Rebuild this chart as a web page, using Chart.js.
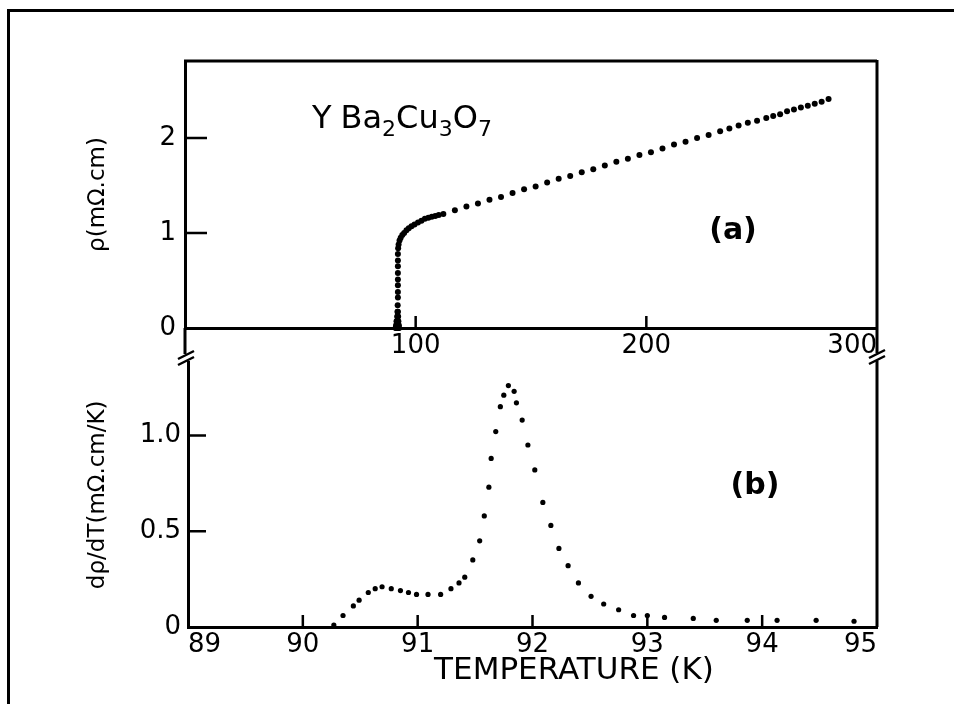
<!DOCTYPE html>
<html>
<head>
<meta charset="utf-8">
<script src="https://cdn.jsdelivr.net/npm/chart.js@4.4.1/dist/chart.umd.min.js"></script>
<style>
  html, body { margin: 0; padding: 0; background: #fff; }
  #hoja { position: relative; width: 954px; height: 704px; overflow: hidden; }
  #marco { position: absolute; left: 7px; top: 9px; right: -10px; bottom: -10px;
           border-left: 3px solid #000; border-top: 3px solid #000; }
  canvas { position: absolute; left: 0; }
</style>
</head>
<body>
<div id="hoja">
  <div id="marco"></div>
  <canvas id="graficoA" width="954" height="372" style="top:0px"></canvas>
  <canvas id="graficoB" width="954" height="364" style="top:340px"></canvas>
</div>
<script>
// (a) resistividad vs temperatura
const temperaturaA = [91.3, 91.6, 91.9, 92.2, 92.5, 92.8, 91.5, 91.8, 92.1, 92.4, 92.7, 91.7, 91.9, 92.2, 92.5,
  92.0, 92.2, 92.4, 92.1, 92.3, 92.2,
  92.3, 92.3, 92.3, 92.3, 92.3, 92.3, 92.3, 92.3, 92.4, 92.6, 93.0, 93.5, 94.2, 95.0, 96.0, 97.0,
  98.2, 99.5, 101, 102.5, 104, 105.5, 107, 108.5, 110,
  112, 117, 122, 127, 132, 137, 142, 147, 152, 157, 162, 167, 172, 177, 182, 187, 192, 197,
  202, 207, 212, 217, 222, 227, 232, 236, 240, 244, 248, 252, 255, 258, 261, 264, 267, 270,
  273, 276, 279]
const resistividad = [0, 0, 0, 0, 0, 0, 0.03, 0.03, 0.03, 0.03, 0.03, 0.07, 0.07, 0.07, 0.07,
  0.12, 0.12, 0.12, 0.17, 0.17, 0.24,
  0.32, 0.38, 0.45, 0.51, 0.58, 0.65, 0.71, 0.78, 0.84, 0.88, 0.92, 0.95, 0.98, 1.0, 1.03, 1.05,
  1.07, 1.09, 1.11, 1.13, 1.15, 1.16, 1.17, 1.18, 1.19,
  1.20, 1.24, 1.28, 1.31, 1.35, 1.38, 1.42, 1.46, 1.49, 1.53, 1.57, 1.60, 1.64, 1.67, 1.71, 1.75, 1.78, 1.82,
  1.85, 1.89, 1.93, 1.96, 2.00, 2.03, 2.07, 2.10, 2.13, 2.16, 2.18, 2.21, 2.23, 2.25, 2.28, 2.30, 2.32, 2.34,
  2.36, 2.38, 2.41]

// (b) derivada dρ/dT cerca de Tc
const temperaturaB = [90.27, 90.35, 90.44, 90.49, 90.57, 90.63, 90.69, 90.77, 90.85, 90.92, 90.99,
  91.09, 91.20, 91.29, 91.36, 91.41, 91.48, 91.54, 91.58, 91.62, 91.64, 91.68, 91.72, 91.75, 91.79,
  91.84, 91.86, 91.91, 91.96, 92.02, 92.09, 92.16, 92.23, 92.31, 92.40, 92.51, 92.62, 92.75, 92.88,
  93.00, 93.15, 93.40, 93.60, 93.87, 94.13, 94.47, 94.80]
const derivada = [0.01, 0.06, 0.11, 0.14, 0.18, 0.20, 0.21, 0.20, 0.19, 0.18, 0.17,
  0.17, 0.17, 0.20, 0.23, 0.26, 0.35, 0.45, 0.58, 0.73, 0.88, 1.02, 1.15, 1.21, 1.26,
  1.23, 1.17, 1.08, 0.95, 0.82, 0.65, 0.53, 0.41, 0.32, 0.23, 0.16, 0.12, 0.09, 0.06,
  0.06, 0.05, 0.045, 0.035, 0.035, 0.035, 0.035, 0.03]

// ejes
const rangoXA = [0, 300]
const rangoYA = [0, 2.81]
const rangoXB = [89, 95]
const rangoYB = [0, 1.38]

Chart.defaults.font.family = '"DejaVu Sans", sans-serif'
Chart.defaults.color = '#000'

function corte(ctx, x, y) {
  // marca de eje cortado "//"
  ctx.lineWidth = 2.5
  ctx.beginPath()
  ctx.moveTo(x - 8, y + 1); ctx.lineTo(x + 8, y - 7)
  ctx.moveTo(x - 8, y + 7); ctx.lineTo(x + 8, y - 1)
  ctx.stroke()
}

const extrasA = {
  id: 'extrasA',
  afterDraw(chart) {
    const ctx = chart.ctx
    const { left, right, top, bottom } = chart.chartArea
    const ejeX = chart.scales.x
    const ejeY = chart.scales.y
    ctx.save()
    ctx.strokeStyle = '#000'
    ctx.fillStyle = '#000'
    ctx.lineWidth = 3
    ctx.beginPath()
    ctx.moveTo(left - 1, top); ctx.lineTo(right, top)
    ctx.moveTo(right, top - 1); ctx.lineTo(right, bottom + 25)
    ctx.moveTo(left, bottom); ctx.lineTo(left, bottom + 26)
    ctx.stroke()
    ctx.lineWidth = 2.5
    ctx.beginPath()
    ejeY.ticks.forEach(t => {
      if (t.value <= 0) return
      const py = ejeY.getPixelForValue(t.value)
      ctx.moveTo(left, py); ctx.lineTo(left + 22, py)
    })
    ejeX.ticks.forEach(t => {
      if (t.value <= rangoXA[0] || t.value >= rangoXA[1]) return
      const px = ejeX.getPixelForValue(t.value)
      ctx.moveTo(px, bottom); ctx.lineTo(px, bottom - 12)
    })
    ctx.stroke()
    corte(ctx, left + 1, bottom + 30)
    corte(ctx, right, bottom + 29)

    // formula con subindices
    let px = 312
    const base = 128
    const partes = [['Y', 0], ['Ba', 0], ['2', 1], ['Cu', 0], ['3', 1], ['O', 0], ['7', 1]]
    ctx.textBaseline = 'alphabetic'
    ctx.textAlign = 'left'
    partes.forEach(([txt, sub]) => {
      ctx.font = sub ? '22px "DejaVu Sans"' : '32px "DejaVu Sans"'
      ctx.fillText(txt, px, sub ? base + 8 : base)
      px += ctx.measureText(txt).width + (txt === 'Y' ? 9 : 0)
    })
    ctx.font = 'bold 30px "DejaVu Sans"'
    ctx.textAlign = 'center'
    ctx.textBaseline = 'middle'
    ctx.fillText('(a)', 733, 231)
    ctx.restore()
  }
}

const extrasB = {
  id: 'extrasB',
  afterDraw(chart) {
    const ctx = chart.ctx
    const { left, right, top, bottom } = chart.chartArea
    const ejeX = chart.scales.x
    const ejeY = chart.scales.y
    ctx.save()
    ctx.strokeStyle = '#000'
    ctx.fillStyle = '#000'
    ctx.lineWidth = 3
    ctx.beginPath()
    ctx.moveTo(right, top - 2); ctx.lineTo(right, bottom)
    ctx.stroke()
    ctx.lineWidth = 2.5
    ctx.beginPath()
    ejeY.ticks.forEach(t => {
      if (t.value <= 0) return
      const py = ejeY.getPixelForValue(t.value)
      ctx.moveTo(left, py); ctx.lineTo(left + 18, py)
    })
    ejeX.ticks.forEach(t => {
      if (t.value <= rangoXB[0] || t.value >= rangoXB[1]) return
      const px = ejeX.getPixelForValue(t.value)
      ctx.moveTo(px, bottom); ctx.lineTo(px, bottom - 12)
    })
    ctx.stroke()
    ctx.font = 'bold 30px "DejaVu Sans"'
    ctx.textAlign = 'center'
    ctx.textBaseline = 'middle'
    ctx.fillText('(b)', 755, 146)
    ctx.font = '31px "DejaVu Sans"'
    ctx.fillText('TEMPERATURE (K)', 574, 331)
    ctx.restore()
  }
}

const puntosA = temperaturaA.map((t, i) => ({ x: t, y: resistividad[i] }))
const puntosB = temperaturaB.map((t, i) => ({ x: t, y: derivada[i] }))

new Chart(document.getElementById('graficoA'), {
  type: 'scatter',
  data: { datasets: [{ data: puntosA, pointRadius: 3, pointBorderWidth: 0,
    backgroundColor: '#000', borderColor: '#000', clip: false }] },
  options: {
    responsive: false, animation: false, devicePixelRatio: 1,
    layout: { padding: { left: 80, top: 61, right: 77, bottom: 0 } },
    plugins: { legend: { display: false }, tooltip: { enabled: false } },
    scales: {
      x: {
        type: 'linear', min: rangoXA[0], max: rangoXA[1],
        grid: { display: false, drawTicks: false },
        border: { display: true, color: '#000', width: 3 },
        ticks: { stepSize: 100, align: 'inner', maxRotation: 0, autoSkip: false, padding: 3,
          font: { size: 26 }, callback: v => v === 0 ? '' : v },
        afterFit: s => { s.height = 44 }
      },
      y: {
        min: rangoYA[0], max: rangoYA[1],
        grid: { display: false, drawTicks: false },
        border: { display: true, color: '#000', width: 3 },
        ticks: { stepSize: 1, includeBounds: false, padding: 9, font: { size: 26 } },
        title: { display: true, text: 'ρ(mΩ.cm)', font: { size: 23 }, padding: { top: 4, bottom: 0 } },
        afterFit: s => { s.width = 105 }
      }
    }
  },
  plugins: [extrasA]
})

new Chart(document.getElementById('graficoB'), {
  type: 'scatter',
  data: { datasets: [{ data: puntosB, pointRadius: 2.6, pointBorderWidth: 0,
    backgroundColor: '#000', borderColor: '#000', clip: false }] },
  options: {
    responsive: false, animation: false, devicePixelRatio: 1,
    layout: { padding: { left: 80, top: 20, right: 77, bottom: 0 } },
    plugins: { legend: { display: false }, tooltip: { enabled: false } },
    scales: {
      x: {
        type: 'linear', min: rangoXB[0], max: rangoXB[1],
        grid: { display: false, drawTicks: false },
        border: { display: true, color: '#000', width: 3 },
        ticks: { stepSize: 1, align: 'inner', maxRotation: 0, autoSkip: false, padding: 3,
          font: { size: 26 } },
        afterFit: s => { s.height = 77 }
      },
      y: {
        min: rangoYB[0], max: rangoYB[1],
        grid: { display: false, drawTicks: false },
        border: { display: true, color: '#000', width: 3 },
        ticks: { stepSize: 0.5, includeBounds: false, padding: 7, font: { size: 26 },
          callback: v => v === 0 ? '0' : v.toFixed(1) },
        title: { display: true, text: 'dρ/dT(mΩ.cm/K)', font: { size: 23 }, padding: { top: 4, bottom: 0 } },
        afterFit: s => { s.width = 108 }
      }
    }
  },
  plugins: [extrasB]
})
</script>
</body>
</html>
